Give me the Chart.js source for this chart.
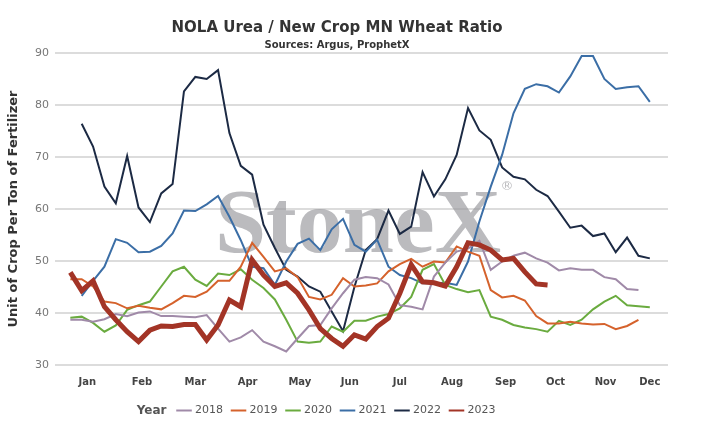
<!DOCTYPE html>
<html>
<head>
<meta charset="utf-8">
<script src="https://cdn.jsdelivr.net/npm/chart.js@4"></script>
<style>
  body { margin: 0; background: #fff; }
  #wrap { width: 714px; height: 445px; }
</style>
</head>
<body>
<div id="wrap"><canvas id="ratioChart"></canvas></div>
<script>
// weekly index 0..51, month labels at approx week positions
const monthLabels = ["Jan", "Feb", "Mar", "Apr", "May", "Jun", "Jul", "Aug", "Sep", "Oct", "Nov", "Dec"];
const monthWeeks = [1.5, 6.3, 11, 15.6, 20.2, 24.6, 29, 33.6, 38.3, 42.7, 47.1, 51];
const years = ["2018", "2019", "2020", "2021", "2022", "2023"];
const colors = ["#a08aa8", "#d5622c", "#6aab3f", "#3b6ea6", "#1c2a44", "#a33426"];

const y2018 = [38.7, 38.7, 38.3, 38.8, 39.8, 39.4, 40.1, 40.3, 39.4, 39.4, 39.3, 39.2, 39.6, 37.0, 34.5, 35.3, 36.7, 34.5, 33.6, 32.6, 35.1, 37.5, 37.7, 40.9, 43.8, 46.4, 46.9, 46.7, 45.5, 41.5, 41.2, 40.7, 47.0, 49.7, 51.8, 52.4, 53.9, 48.3, 49.9, 51.0, 51.6, 50.5, 49.7, 48.2, 48.6, 48.3, 48.3, 46.9, 46.5, 44.6, 44.4, null];
const y2019 = [46.5, 46.5, 45.1, 42.2, 41.9, 40.9, 41.4, 41.0, 40.7, 41.9, 43.3, 43.1, 44.1, 46.2, 46.2, 48.9, 53.5, 50.8, 48.0, 48.6, 46.9, 43.1, 42.6, 43.5, 46.7, 45.1, 45.3, 45.7, 48.0, 49.4, 50.4, 48.9, 49.9, 49.7, 52.8, 51.8, 51.0, 44.4, 43.0, 43.3, 42.4, 39.4, 38.0, 38.0, 38.3, 38.0, 37.8, 37.9, 36.9, 37.5, 38.7, null];
const y2020 = [39.1, 39.3, 38.1, 36.4, 37.6, 40.6, 41.5, 42.2, 45.1, 48.0, 48.9, 46.4, 45.2, 47.6, 47.3, 48.4, 46.4, 44.8, 42.6, 38.7, 34.5, 34.3, 34.5, 37.4, 36.4, 38.5, 38.5, 39.3, 39.8, 40.9, 43.1, 48.3, 49.4, 45.4, 44.6, 44.0, 44.4, 39.3, 38.7, 37.7, 37.2, 36.9, 36.4, 38.5, 37.7, 38.7, 40.7, 42.2, 43.3, 41.5, 41.3, 41.1];
const y2021 = [null, 43.3, 46.2, 48.9, 54.2, 53.5, 51.7, 51.8, 52.9, 55.3, 59.7, 59.6, 60.9, 62.5, 58.5, 54.0, 48.9, 48.6, 45.4, 49.9, 53.3, 54.3, 52.1, 56.1, 58.1, 53.1, 51.8, 54.1, 48.9, 47.3, 46.7, 45.7, 45.7, 45.8, 45.4, 49.9, 57.6, 64.3, 70.4, 78.4, 83.1, 84.0, 83.6, 82.4, 85.5, 89.4, 89.4, 85.0, 83.1, 83.4, 83.6, 80.6];
const y2022 = [null, 76.4, 72.0, 64.3, 61.1, 70.2, 60.3, 57.5, 63.0, 64.8, 82.6, 85.4, 85.0, 86.7, 74.6, 68.3, 66.6, 57.0, 52.5, 48.3, 47.0, 45.1, 44.1, 40.3, 36.5, 45.0, 52.1, 54.2, 59.7, 55.2, 56.6, 67.1, 62.4, 65.7, 70.4, 79.4, 75.1, 73.3, 68.0, 66.2, 65.7, 63.7, 62.5, 59.5, 56.4, 56.8, 54.8, 55.3, 51.7, 54.5, 51.0, 50.5];
const y2023 = [47.8, 44.3, 46.2, 41.2, 38.7, 36.4, 34.5, 36.7, 37.5, 37.4, 37.8, 37.8, 34.8, 37.7, 42.5, 41.2, 50.2, 47.3, 45.1, 45.8, 43.8, 40.6, 37.0, 35.1, 33.6, 35.8, 35.0, 37.4, 39.0, 43.8, 49.3, 46.0, 45.8, 45.2, 48.9, 53.5, 53.1, 52.1, 50.2, 50.5, 47.9, 45.6, 45.4];

const series = [y2018, y2019, y2020, y2021, y2022, y2023];

const toPoints = (arr) => arr.map((v, i) => ({ x: i, y: v }));

// watermark + "Year" legend label
const extras = {
  id: "extras",
  beforeDatasetsDraw(chart) {
    const ctx = chart.ctx;
    ctx.save();
    ctx.fillStyle = "rgba(150,150,155,0.65)";
    ctx.font = "bold 92px 'Liberation Serif'";
    ctx.textAlign = "center";
    ctx.textBaseline = "alphabetic";
    ctx.fillText("StoneX", 358, 252);
    ctx.font = "13px 'DejaVu Sans'";
    ctx.fillText("®", 507, 190);
    ctx.restore();
  },
  afterDraw(chart) {
    const lg = chart.legend;
    if (!lg || !lg.legendHitBoxes.length) return;
    const b = lg.legendHitBoxes[0];
    const ctx = chart.ctx;
    ctx.save();
    ctx.fillStyle = "#555";
    ctx.font = "bold 12px 'DejaVu Sans'";
    ctx.textAlign = "right";
    ctx.textBaseline = "middle";
    ctx.fillText("Year", b.left - 12, b.top + b.height / 2);
    ctx.restore();
  }
};

new Chart(document.getElementById("ratioChart"), {
  type: "line",
  data: {
    datasets: years.map((yr, k) => ({
      label: yr,
      data: toPoints(series[k]),
      borderColor: colors[k],
      backgroundColor: colors[k],
      borderWidth: yr === "2023" ? 5 : 2,
      pointRadius: 0,
      tension: 0,
      order: yr === "2023" ? 0 : 1
    }))
  },
  options: {
    responsive: true,
    maintainAspectRatio: false,
    animation: false,
    layout: { padding: { top: 0, right: 46, left: 6, bottom: 19 } },
    scales: {
      x: {
        type: "linear",
        min: -1.35,
        max: 52.6,
        grid: { display: false },
        border: { display: false },
        afterBuildTicks(axis) {
          axis.ticks = monthWeeks.map((w) => ({ value: w }));
        },
        ticks: {
          autoSkip: false,
          maxRotation: 0,
          color: "#444",
          font: { family: "DejaVu Sans", size: 10, weight: "bold" },
          callback: (v) => {
            const i = monthWeeks.indexOf(v);
            return i >= 0 ? monthLabels[i] : "";
          }
        },
        afterFit(axis) { axis.height = 30; }
      },
      y: {
        min: 30,
        max: 90,
        afterFit(axis) { axis.width = 49; },
        ticks: {
          stepSize: 10,
          color: "#777",
          font: { family: "DejaVu Sans", size: 11 },
          padding: 6
        },
        grid: { color: "#dcdcdc", lineWidth: 2, drawTicks: false },
        border: { display: false },
        title: {
          display: true,
          text: "Unit of Crop Per Ton of Fertilizer",
          color: "#333",
          font: { family: "DejaVu Sans", size: 13, weight: "bold" },
          padding: { top: 0, bottom: 2 }
        }
      }
    },
    plugins: {
      title: {
        display: true,
        text: "NOLA Urea / New Crop MN Wheat Ratio",
        color: "#333",
        font: { family: "DejaVu Sans", size: 15, weight: "bold" },
        padding: { top: 19, bottom: 2 }
      },
      subtitle: {
        display: true,
        text: "Sources: Argus, ProphetX",
        color: "#333",
        font: { family: "DejaVu Sans", size: 10, weight: "bold" },
        padding: { bottom: 2 }
      },
      legend: {
        position: "bottom",
        labels: {
          usePointStyle: true,
          pointStyle: "line",
          boxWidth: 20,
          color: "#555",
          font: { family: "DejaVu Sans", size: 11 },
          padding: 10,
          generateLabels(chart) {
            return chart.data.datasets.map((ds, i) => ({
              text: ds.label,
              strokeStyle: ds.borderColor,
              fillStyle: ds.borderColor,
              fontColor: "#555",
              lineWidth: 2,
              pointStyle: "line",
              datasetIndex: i,
              hidden: false
            }));
          }
        }
      },
      tooltip: { enabled: false }
    }
  },
  plugins: [extras]
});
</script>
</body>
</html>
